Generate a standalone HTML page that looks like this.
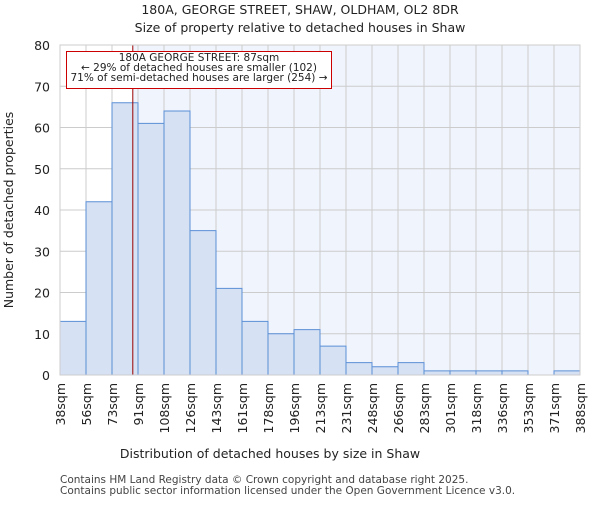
<!DOCTYPE html>
<html><head><meta charset="utf-8"><style>
body{margin:0;background:#fff;font-family:"Liberation Sans","DejaVu Sans",sans-serif}
</style></head><body>
<svg id="chart" width="600" height="500" viewBox="0 0 600 500" xmlns="http://www.w3.org/2000/svg" font-family="DejaVu Sans, Liberation Sans, sans-serif">
<text x="300" y="14" text-anchor="middle" font-size="12.5" fill="#222">180A, GEORGE STREET, SHAW, OLDHAM, OL2 8DR</text>
<text x="300" y="32" text-anchor="middle" font-size="12.5" fill="#222">Size of property relative to detached houses in Shaw</text>
<g id="plot"></g>
<text x="270" y="458" text-anchor="middle" font-size="12.5" fill="#222">Distribution of detached houses by size in Shaw</text>
<text transform="translate(13,210) rotate(-90)" text-anchor="middle" font-size="12.5" fill="#222">Number of detached properties</text>
<text x="60" y="483" font-size="10.5" fill="#444">Contains HM Land Registry data © Crown copyright and database right 2025.</text>
<text x="60" y="494" font-size="10.5" fill="#444">Contains public sector information licensed under the Open Government Licence v3.0.</text>
</svg>
<script>
const categories=["38sqm","56sqm","73sqm","91sqm","108sqm","126sqm","143sqm","161sqm","178sqm","196sqm","213sqm","231sqm","248sqm","266sqm","283sqm","301sqm","318sqm","336sqm","353sqm","371sqm","388sqm"];
const counts=[13,42,66,61,64,35,21,13,10,11,7,3,2,3,1,1,1,1,0,1];
const yTicks=[0,10,20,30,40,50,60,70,80];
const binStart=38, binWidth=17.5, markerValue=87;
const X0=60,X1=580,Y0=375,Y1=45;
const nb=counts.length;
const xs=v=>X0+(v-binStart)/(binWidth*nb)*(X1-X0);
const xi=i=>X0+i*(X1-X0)/nb;
const ys=v=>Y0-v/80*(Y0-Y1);
const NS="http://www.w3.org/2000/svg";
const g=document.getElementById('plot');
function mk(t,a){const e=document.createElementNS(NS,t);for(const k in a)e.setAttribute(k,a[k]);g.appendChild(e);return e;}
const mx=xs(markerValue);
let e=mk('rect',{x:X0,y:Y1,width:mx-X0,height:Y0-Y1,fill:'#ffffff'});


e=mk('rect',{x:mx,y:Y1,width:X1-mx,height:Y0-Y1,fill:'#f0f4fd'});


yTicks.forEach(t=>{
 const l=mk('line',{x1:X0,x2:X1,y1:ys(t),y2:ys(t),stroke:'#cccccc','stroke-width':1});
 
 
 const tx=mk('text',{x:X0-10,y:ys(t)+5,'text-anchor':'end','font-size':12.5,fill:'#222'});
 tx.textContent=t;
 
 
});
categories.forEach((c,i)=>{
 const x=xi(i);
 const l=mk('line',{x1:x,x2:x,y1:Y1,y2:Y0,stroke:'#cccccc','stroke-width':1});
 
 
 const tx=mk('text',{transform:`translate(${x+5},${Y0+8}) rotate(-90)`,'text-anchor':'end','font-size':12.5,fill:'#222'});
 tx.textContent=c;
 
 
});
counts.forEach((v,i)=>{
 if(v<=0)return;
 const r=mk('rect',{x:xi(i),y:ys(v),width:xi(i+1)-xi(i),height:Y0-ys(v),fill:'#d6e1f3',stroke:'#5b8fd6','stroke-width':1});
 
 
});
e=mk('line',{x1:mx,x2:mx,y1:Y1,y2:Y0,stroke:'#990000','stroke-width':1});


e=mk('rect',{x:66.5,y:51.5,width:265,height:37,fill:'#fff',stroke:'#cc0000','stroke-width':1});


["180A GEORGE STREET: 87sqm","← 29% of detached houses are smaller (102)","71% of semi-detached houses are larger (254) →"].forEach((s,k)=>{
 const t=mk('text',{x:199,y:61+k*10,'text-anchor':'middle','font-size':10.5,fill:'#222'});
 t.textContent=s;
 
 
});
e=mk('rect',{x:X0,y:Y1,width:X1-X0,height:Y0-Y1,fill:'none',stroke:'#cccccc'});


</script>
</body></html>
